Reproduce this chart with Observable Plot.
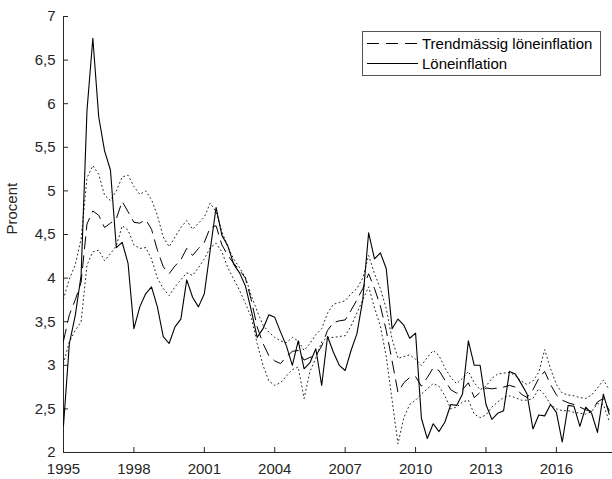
<!DOCTYPE html>
<html>
<head>
<meta charset="utf-8">
<script src="https://cdn.jsdelivr.net/npm/d3@7"></script>
<script src="https://cdn.jsdelivr.net/npm/@observablehq/plot@0.6"></script>
<style>
  body { margin: 0; background: #fff; }
  #wrap { position: relative; width: 612px; height: 479px; font-family: "Liberation Sans", Arial, Helvetica, sans-serif; }
  #legend { position: absolute; left: 362px; top: 31px; }
</style>
</head>
<body>
<div id="wrap"></div>
<script>
// Quarterly data, 1995Q1 .. 2018Q2
const startYear = 1995;
const actual = [
  2.31, 3.25, 3.57, 4.03,
  5.92, 6.75, 5.85, 5.46,
  5.24, 4.35, 4.41, 4.17,
  3.42, 3.67, 3.82, 3.90,
  3.67, 3.33, 3.25, 3.44,
  3.53, 3.98, 3.78, 3.67,
  3.82, 4.32, 4.81, 4.49,
  4.37, 4.16, 4.06, 3.91,
  3.63, 3.32, 3.42, 3.58,
  3.55, 3.38, 3.22, 3.00,
  3.28, 2.96, 3.03, 3.19,
  2.77, 3.33, 3.15, 3.00,
  2.94, 3.17, 3.36, 3.75,
  4.52, 4.22, 4.29, 4.11,
  3.42, 3.53, 3.46, 3.31,
  3.37, 2.39, 2.16, 2.33,
  2.24, 2.35, 2.55, 2.54,
  2.67, 3.28, 3.00, 3.00,
  2.55, 2.38, 2.45, 2.48,
  2.93, 2.90, 2.79, 2.67,
  2.27, 2.43, 2.42, 2.55,
  2.46, 2.12, 2.54, 2.53,
  2.30, 2.52, 2.45, 2.23,
  2.67, 2.44
];
const trend = [
  3.28, 3.58, 3.75, 3.95,
  4.62, 4.77, 4.72, 4.58,
  4.63, 4.68, 4.88, 4.76,
  4.64, 4.63, 4.67, 4.56,
  4.32, 4.13, 4.05, 4.14,
  4.21, 4.34, 4.26, 4.34,
  4.41, 4.58, 4.60, 4.38,
  4.26, 4.17, 4.09, 4.00,
  3.75, 3.44, 3.25, 3.11,
  3.05, 3.02, 3.10, 3.16,
  3.17, 3.06, 3.09, 3.11,
  3.22, 3.40, 3.49, 3.51,
  3.52, 3.63, 3.75, 3.88,
  4.05, 3.88, 3.68, 3.40,
  3.05, 2.69, 2.80, 2.86,
  2.87, 2.76, 2.86, 2.97,
  2.94, 2.83, 2.72, 2.68,
  2.72, 2.80, 2.63, 2.69,
  2.74, 2.73, 2.74, 2.75,
  2.77, 2.75, 2.67, 2.63,
  2.72, 2.85, 2.93, 2.78,
  2.66, 2.60, 2.57, 2.55,
  2.52, 2.49, 2.47, 2.58,
  2.62, 2.48
];
const upper = [
  3.76, 3.99, 4.15, 4.45,
  5.15, 5.29, 5.19, 4.95,
  4.89, 5.00, 5.16, 5.18,
  5.05, 4.96, 5.00, 4.90,
  4.72, 4.47, 4.36, 4.47,
  4.58, 4.66, 4.56, 4.63,
  4.70, 4.86, 4.76, 4.53,
  4.36, 4.22, 4.12, 4.01,
  3.80, 3.62, 3.46, 3.38,
  3.32, 3.28, 3.26, 3.32,
  3.28, 3.17, 3.25, 3.35,
  3.42, 3.60, 3.70, 3.72,
  3.74, 3.82, 3.88, 4.00,
  4.26, 4.05, 3.88, 3.65,
  3.30, 3.08, 3.10, 3.12,
  3.07, 3.00, 3.09, 3.17,
  3.11, 2.97, 2.86, 2.79,
  2.85, 2.93, 2.80, 2.72,
  2.76, 2.85, 2.90, 2.91,
  2.92, 2.88, 2.82, 2.78,
  2.82, 2.92, 3.18, 2.96,
  2.78, 2.68, 2.66, 2.65,
  2.63, 2.62, 2.66, 2.74,
  2.83, 2.72
];
const lower = [
  3.02, 3.27, 3.40, 3.50,
  4.15, 4.30, 4.32, 4.20,
  4.28, 4.37, 4.60, 4.55,
  4.38, 4.34, 4.35, 4.22,
  4.00, 3.88, 3.80, 3.90,
  3.98, 4.06, 4.03, 4.12,
  4.22, 4.35, 4.40, 4.30,
  4.12, 3.99, 3.86, 3.71,
  3.55, 3.25, 3.00, 2.82,
  2.77, 2.80, 2.88, 2.95,
  2.98, 2.62, 2.93, 3.08,
  3.27, 3.32, 3.32, 3.33,
  3.34, 3.45, 3.60, 3.75,
  3.90, 3.66, 3.45, 3.10,
  2.60, 2.10, 2.40, 2.55,
  2.60, 2.67, 2.73, 2.79,
  2.76, 2.65, 2.50, 2.52,
  2.58, 2.60, 2.44, 2.40,
  2.43, 2.52, 2.58, 2.63,
  2.65, 2.63, 2.60, 2.60,
  2.62, 2.73, 2.66, 2.55,
  2.50, 2.48, 2.48, 2.46,
  2.45, 2.44, 2.47, 2.56,
  2.55, 2.36
];
const yTicks = [2, 2.5, 3, 3.5, 4, 4.5, 5, 5.5, 6, 6.5, 7];
const xTicks = [1995, 1998, 2001, 2004, 2007, 2010, 2013, 2016];
const seriesNames = ["Trendmässig löneinflation", "Löneinflation"];
const yLabel = "Procent";

const data = actual.map((v, i) => ({
  t: startYear + i / 4,
  actual: v, trend: trend[i], upper: upper[i], lower: lower[i]
}));
const fmt = d => String(d).replace(".", ",");
const ink = "#262626";
const font = "Liberation Sans, Arial, Helvetica, sans-serif";

const chart = Plot.plot({
  width: 612, height: 479,
  marginLeft: 63, marginRight: 0, marginTop: 16, marginBottom: 27,
  style: { fontFamily: font, fontSize: "15px", color: ink, background: "white", overflow: "visible" },
  x: { domain: [1995, 2018.39] },
  y: { domain: [2, 7] },
  marks: [
    Plot.axisY({ ticks: yTicks, tickSize: 0, tickPadding: 8, tickFormat: fmt, label: null, fontSize: 15 }),
    Plot.axisX({ ticks: xTicks, tickSize: 0, tickPadding: 11, tickFormat: d => String(d), label: null, fontSize: 15 }),
    Plot.tickY(yTicks, { y: d => d, stroke: ink, insetRight: 544 }),
    Plot.tickX(xTicks, { x: d => d, stroke: ink, insetTop: 431 }),
    Plot.ruleX([1995], { stroke: ink }),
    Plot.ruleY([2], { stroke: ink }),
    Plot.text([yLabel], { frameAnchor: "left", rotate: -90, dx: -51, fontSize: 15, fill: ink }),
    Plot.line(data, { x: "t", y: "upper", stroke: "#222", strokeWidth: 1, strokeDasharray: "1,3.2" }),
    Plot.line(data, { x: "t", y: "lower", stroke: "#222", strokeWidth: 1, strokeDasharray: "1,3.2" }),
    Plot.line(data, { x: "t", y: "trend", stroke: "#000", strokeWidth: 1, strokeDasharray: "12,7" }),
    Plot.line(data, { x: "t", y: "actual", stroke: "#000", strokeWidth: 1.1 })
  ]
});

const wrap = document.getElementById("wrap");
wrap.appendChild(chart);

// Legend (HTML overlay with real text)
const legend = d3.select(wrap).append("div").attr("id", "legend");
const lsvg = legend.append("svg").attr("width", 240).attr("height", 46)
  .style("font-family", font).style("font-size", "15px");
lsvg.append("rect").attr("x", 0.5).attr("y", 0.5).attr("width", 238).attr("height", 44)
  .attr("fill", "white").attr("stroke", "#555");
const styles = [{ dash: "12,7" }, { dash: null }];
seriesNames.forEach((name, i) => {
  const yy = 12.5 + i * 20;
  const ln = lsvg.append("line").attr("x1", 5).attr("x2", 56).attr("y1", yy).attr("y2", yy)
    .attr("stroke", "#000").attr("stroke-width", 1);
  if (styles[i].dash) ln.attr("stroke-dasharray", styles[i].dash);
  lsvg.append("text").attr("x", 60).attr("y", yy).attr("dy", "0.35em").attr("fill", "#000").text(name);
});
</script>
</body>
</html>
